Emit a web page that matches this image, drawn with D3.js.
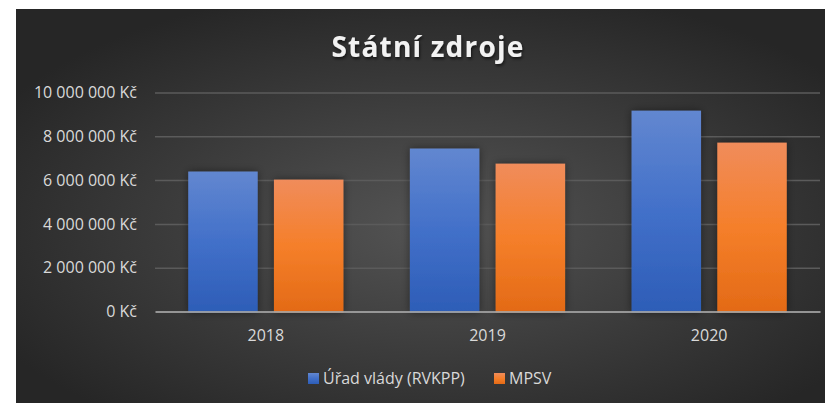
<!DOCTYPE html>
<html>
<head>
<meta charset="utf-8">
<script src="https://cdn.jsdelivr.net/npm/d3@7"></script>
<style>
    body { margin: 0; background: #fff; }
    text { font-family: "Open Sans", sans-serif; }
</style>
</head>
<body>
<div id="chart"></div>
<script>

// data
const years = ["2018", "2019", "2020"];
const seriesNames = ["Úřad vlády (RVKPP)", "MPSV"];
const uradVlady = [6390000, 7440000, 9170000];
const mpsv = [6020000, 6750000, 7710000];
const yTicks = [0, 2000000, 4000000, 6000000, 8000000, 10000000];

const W = 825, H = 403;
const margin = {top: 92.5, right: 5, bottom: 91, left: 155};

let svg = d3.select("#chart").append("svg")
    .attr("width", W)
    .attr("height", H);

let defs = svg.append("defs");

// background
let bg = defs.append("radialGradient")
    .attr("id", "bg")
    .attr("cx", "0.52").attr("cy", "0.55").attr("r", "0.62");
bg.append("stop").attr("offset", "0%").attr("stop-color", "#545454");
bg.append("stop").attr("offset", "100%").attr("stop-color", "#262626");

// bar gradients
function barGrad(id, top, mid, bottom) {
    let g = defs.append("linearGradient")
        .attr("id", id)
        .attr("x1", 0).attr("y1", 0).attr("x2", 0).attr("y2", 1);
    g.append("stop").attr("offset", "0%").attr("stop-color", top);
    g.append("stop").attr("offset", "50%").attr("stop-color", mid);
    g.append("stop").attr("offset", "100%").attr("stop-color", bottom);
}
barGrad("gBlue", "#6287d0", "#4270c9", "#2d5db7");
barGrad("gOrange", "#f08c5b", "#f57f2a", "#e36a16");

let shadow = defs.append("filter").attr("id", "shadow")
    .attr("x", "-30%").attr("y", "-30%").attr("width", "160%").attr("height", "160%");
shadow.append("feDropShadow")
    .attr("dx", 0).attr("dy", 0).attr("stdDeviation", 4)
    .attr("flood-color", "#000").attr("flood-opacity", 0.45);

let tshadow = defs.append("filter").attr("id", "tshadow")
    .attr("x", "-10%").attr("y", "-30%").attr("width", "120%").attr("height", "160%");
tshadow.append("feDropShadow")
    .attr("dx", 1).attr("dy", 2).attr("stdDeviation", 1.5)
    .attr("flood-color", "#000").attr("flood-opacity", 0.6);

svg.append("rect")
    .attr("x", 16).attr("y", 9)
    .attr("width", W - 16).attr("height", H - 9)
    .attr("fill", "url(#bg)");

// title
svg.append("text")
    .attr("x", 428)
    .attr("y", 57)
    .attr("text-anchor", "middle")
    .attr("fill", "#f2f2f2")
    .attr("font-size", 28)
    .attr("font-weight", "bold")
    .attr("letter-spacing", 1.2)
    .attr("filter", "url(#tshadow)")
    .text("Státní zdroje");

// scales
const x0 = d3.scaleBand()
    .domain(years)
    .range([margin.left, W - margin.right])
    .paddingInner(0.30)
    .paddingOuter(0.15);

const x1 = d3.scaleBand()
    .domain(seriesNames)
    .range([0, x0.bandwidth()])
    .paddingInner(0.19);

const y = d3.scaleLinear()
    .domain([0, 10000000])
    .range([H - margin.bottom - 0.5, margin.top]);

const cz = d3.formatLocale({decimal: ",", thousands: "\u00a0", grouping: [3], currency: ["", "\u00a0Kč"]});
const fmt = v => cz.format("$,")(v);

// y axis with gridlines
let yAxis = d3.axisLeft(y)
    .tickValues(yTicks)
    .tickFormat(fmt)
    .tickSizeInner(-(W - margin.right - margin.left))
    .tickSizeOuter(0)
    .tickPadding(18);

let gy = svg.append("g")
    .attr("class", "y-axis")
    .attr("transform", `translate(${margin.left},0)`)
    .call(yAxis);
gy.select(".domain").remove();
gy.selectAll(".tick line")
    .attr("stroke", "#5b5b5b")
    .attr("stroke-width", 1.5)
    .attr("display", d => d === 0 ? "none" : null);
gy.selectAll(".tick text")
    .attr("fill", "#d9d9d9")
    .attr("font-size", 16);

// bars
const series = [
    {name: seriesNames[0], values: uradVlady, fill: "url(#gBlue)"},
    {name: seriesNames[1], values: mpsv, fill: "url(#gOrange)"}
];

let groups = svg.selectAll(".year")
    .data(years)
    .join("g")
    .attr("class", "year")
    .attr("transform", d => `translate(${x0(d)},0)`);

groups.selectAll("rect")
    .data((d, i) => series.map(s => ({name: s.name, value: s.values[i], fill: s.fill})))
    .join("rect")
    .attr("x", d => x1(d.name))
    .attr("width", x1.bandwidth())
    .attr("y", d => y(d.value))
    .attr("height", d => y(0) - y(d.value) + 1)
    .attr("fill", d => d.fill)
    .attr("filter", "url(#shadow)");

// x axis
let xAxis = d3.axisBottom(x0)
    .tickSize(0)
    .tickPadding(18);

let gx = svg.append("g")
    .attr("class", "x-axis")
    .attr("transform", `translate(0,${y(0)})`)
    .call(xAxis);
gx.select(".domain")
    .attr("stroke", "#a6a6a6")
    .attr("stroke-width", 2)
    .attr("stroke-opacity", 0.85);
gx.selectAll(".tick text")
    .attr("fill", "#d9d9d9")
    .attr("font-size", 16);

// legend
const legendX = [308, 494];
let legend = svg.selectAll(".legend")
    .data(series)
    .join("g")
    .attr("class", "legend")
    .attr("transform", (d, i) => `translate(${legendX[i]},373)`);

legend.append("rect")
    .attr("width", 11)
    .attr("height", 11)
    .attr("fill", d => d.fill);

legend.append("text")
    .attr("x", 15)
    .attr("y", 11)
    .attr("fill", "#d9d9d9")
    .attr("font-size", 16)
    .text(d => d.name);

</script>
</body>
</html>
